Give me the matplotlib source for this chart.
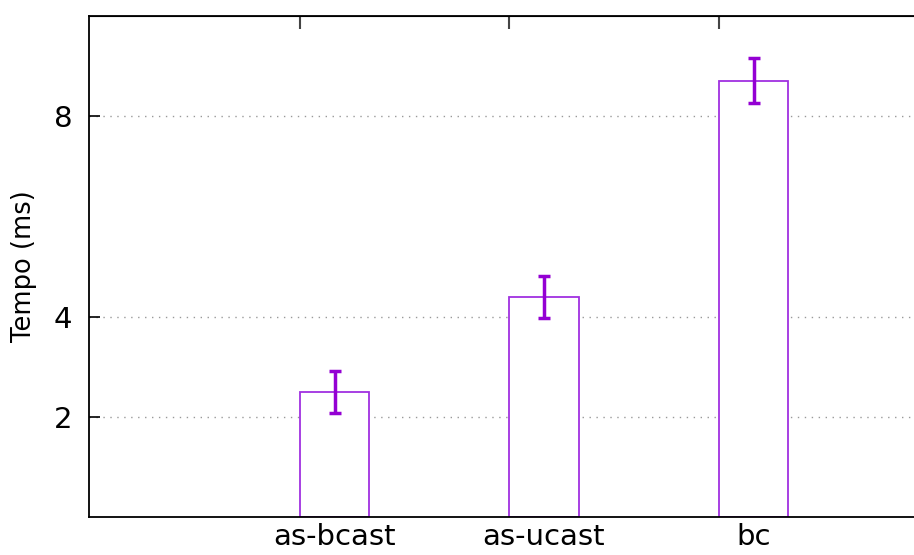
import matplotlib.pyplot as plt
import numpy as np

categories = ['as-bcast', 'as-ucast', 'bc']
tempo = [2.50, 4.40, 8.71]
erro = [0.42, 0.42, 0.45]
yticks = [2, 4, 8]

plt.rcParams['font.family'] = 'DejaVu Sans'

fig = plt.figure(figsize=(9.14, 5.55), dpi=100)
ax = fig.add_axes([89/914, 38/555, 1 - 89/914, 501/555])

x = np.arange(len(categories))
width = 0.333
purple = '#9400d3'

ax.bar(x, tempo, width, color='white', edgecolor='#a030e0', linewidth=1.3, zorder=2)
ax.errorbar(x, tempo, yerr=erro, fmt='none', ecolor=purple, elinewidth=2.5,
            capsize=4, capthick=2.5, zorder=3)

ax.set_xlim(-1.172, 2.766)
ax.set_ylim(0, 10)
ax.set_xticks(x)
ax.set_xticklabels(categories, fontsize=21)
ax.set_yticks(yticks)
ax.set_yticklabels([str(t) for t in yticks], fontsize=21)
ax.tick_params(axis='x', length=0, pad=4)
ax.tick_params(axis='y', direction='in', length=8, width=1.2, pad=12)
ax.set_ylabel('Tempo (ms)', fontsize=18.5, labelpad=12)

ax.grid(axis='y', color='#999999', linestyle=(0, (1, 4)), linewidth=1.0, zorder=0)
ax.set_axisbelow(True)

for s in ['left', 'bottom', 'top']:
    ax.spines[s].set_linewidth(1.3)
ax.spines['right'].set_visible(False)

top = ax.secondary_xaxis('top')
top.set_xticks(x - width / 2)
top.set_xticklabels([])
top.tick_params(direction='in', length=9, width=1.5, color='#444444')

fig.savefig('out.png', dpi=100)
